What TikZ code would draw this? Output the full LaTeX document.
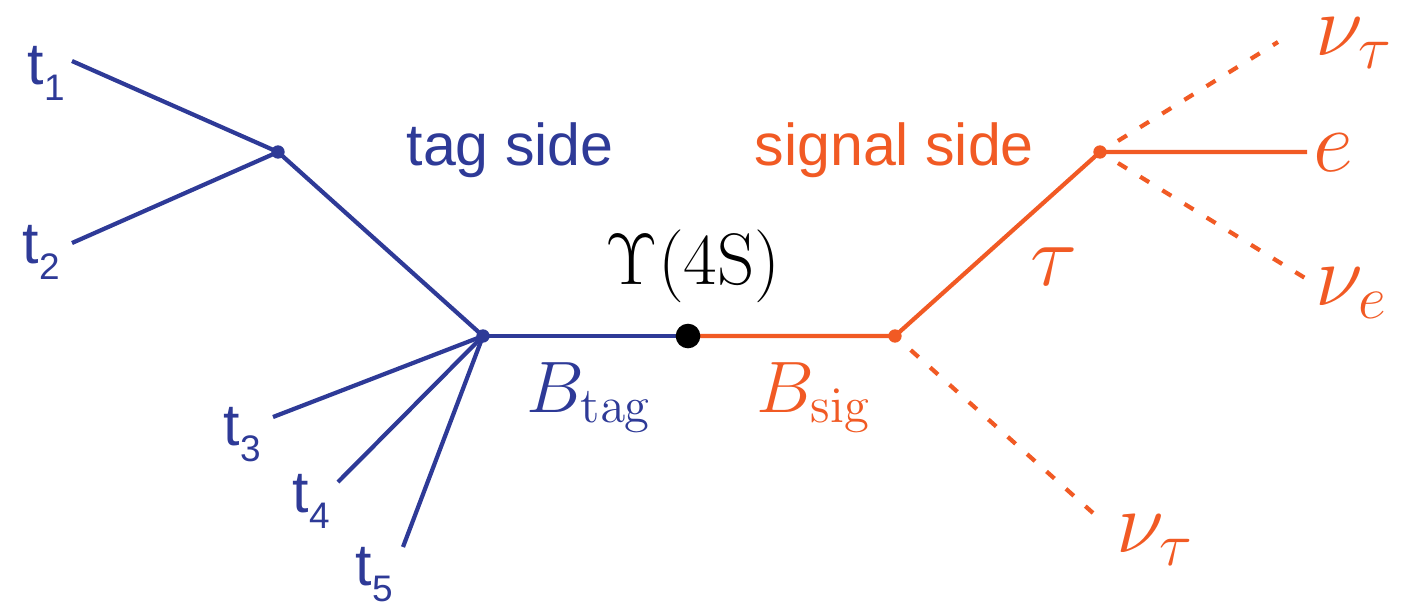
\documentclass[tikz,border=0pt]{standalone}
\usepackage[no-math]{fontspec}
\newfontfamily\arialf{Liberation Sans}
\definecolor{tagblue}{RGB}{46,58,151}
\definecolor{sigorange}{RGB}{241,90,36}
\tikzset{
  tagline/.style={draw=tagblue, line width=1.2pt},
  sigline/.style={draw=sigorange, line width=1.2pt},
  nuline/.style={sigline, dash pattern=on 3pt off 4.4pt, shorten <=6pt},
  txtlab/.style={anchor=base west, inner sep=0pt, font=\arialf\fontsize{16.8}{18}\selectfont},
  tlab/.style={txtlab, text=tagblue},
  mathbig/.style={anchor=base west, inner sep=0pt, text=sigorange, font=\fontsize{25}{28}\selectfont},
  mathmid/.style={anchor=base west, inner sep=0pt, font=\fontsize{19.8}{22}\selectfont},
}
\newcommand{\tsub}[1]{t\raisebox{-4.6pt}{\fontsize{10.5}{11}\selectfont #1}}
\begin{document}
\begin{tikzpicture}[x=0.01cm, y=-0.01cm]
\useasboundingbox (0,0) rectangle (1405,605);
% vertices
\coordinate (v1) at (278,152);
\coordinate (v0) at (483,336);
\coordinate (ups) at (688,336);
\coordinate (v2) at (895,336);
\coordinate (v3) at (1100,152);
% free ends
\coordinate (e1) at (72,61);
\coordinate (e2) at (72,243);
\coordinate (e3) at (273,417);
\coordinate (e4) at (338,482);
\coordinate (e5) at (403,547);
\coordinate (enut) at (1278,42);
\coordinate (ee) at (1307,152);
\coordinate (enue) at (1305,278);
\coordinate (enut2) at (1093,513);
% tag side
\draw[tagline] (e1) -- (v1) -- (e2);
\draw[tagline] (v1) -- (v0);
\draw[tagline] (e3) -- (v0);
\draw[tagline] (e4) -- (v0);
\draw[tagline] (e5) -- (v0);
\draw[tagline] (v0) -- (ups);
% signal side
\draw[sigline] (ups) -- (v2) -- (v3) -- (ee);
\draw[nuline] (v3) -- (enut);
\draw[nuline] (v3) -- (enue);
\draw[nuline] (v2) -- (enut2);
% dots
\fill[tagblue] (v1) circle (1.9pt);
\fill[tagblue] (v0) circle (1.9pt);
\fill[sigorange] (v2) circle (1.9pt);
\fill[sigorange] (v3) circle (1.9pt);
\fill[black] (ups) circle (3.5pt);
% labels
\node[tlab] (t1) at (27,84) {\tsub{1}};
\node[tlab] (t2) at (22,263) {\tsub{2}};
\node[tlab] (t3) at (223,445) {\tsub{3}};
\node[tlab] (t4) at (292,512) {\tsub{4}};
\node[tlab] (t5) at (355,585) {\tsub{5}};
\node[txtlab, text=tagblue] (tagside) at (406,165) {tag side};
\node[txtlab, text=sigorange] (sigside) at (754,165) {signal side};
\node[mathmid, font=\fontsize{20.5}{23}\selectfont] (upsl) at (605,284) {$\Upsilon(4\mathrm{S})$};
\node[mathmid, text=tagblue] (btag) at (526,412) {$B_{\mathrm{tag}}$};
\node[mathmid, text=sigorange] (bsig) at (756,412) {$B_{\mathrm{sig}}$};
\node[mathbig] (nut1) at (1315,55) {$\nu_\tau$};
\node[mathbig] (el) at (1313,171) {$e$};
\node[mathbig] (nue) at (1315,305) {$\nu_e$};
\node[mathbig] (taul) at (1030,285) {$\tau$};
\node[mathbig] (nut2) at (1116,552) {$\nu_\tau$};
\end{tikzpicture}
\end{document}
